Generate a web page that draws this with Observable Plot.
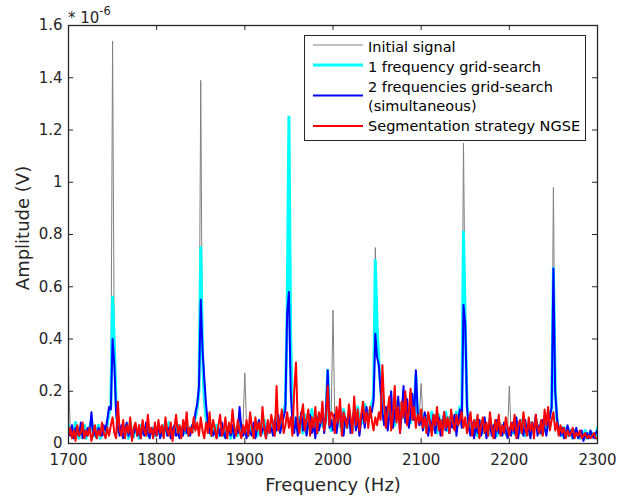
<!DOCTYPE html>
<html>
<head>
<meta charset="utf-8">
<script src="https://cdn.jsdelivr.net/npm/d3@7"></script>
<script src="https://cdn.jsdelivr.net/npm/@observablehq/plot@0.6"></script>
<style>
  html, body { margin: 0; padding: 0; background: #fff; }
  #chart { width: 618px; height: 498px; }
</style>
</head>
<body>
<div id="chart"></div>
<script>
// Frequency grid: 1700 .. 2300 Hz, step 2 Hz
const freqStart = 1700, freqStep = 2;
// Values in units of 1e-8 V
const initialSignal = [
  27,5,3,6,4,2,5,3,7,4,6,3,5,8,4,6,3,5,4,7,3,6,5,10,15,
  154,30,10,4,6,3,5,4,7,3,5,6,2,5,4,7,3,6,4,5,7,3,5,4,6,
  4,5,3,6,4,7,3,5,6,4,3,7,5,4,6,3,5,8,4,5,6,4,9,12,20,
  139,25,14,8,5,6,4,3,7,5,4,6,3,7,4,5,3,6,4,5,3,7,6,4,8,
  27,6,4,7,5,3,8,5,4,7,6,8,4,9,5,7,6,10,5,8,9,7,11,14,50,
  125,40,10,7,9,6,8,11,5,9,7,10,6,12,8,5,9,7,11,6,8,10,20,9,12,
  51,9,7,11,6,12,8,10,7,13,9,6,11,14,8,12,7,10,13,9,12,14,16,20,75,
  45,30,18,13,10,12,9,14,11,8,15,10,13,16,9,12,10,14,11,15,13,10,28,14,11,
  23,9,7,11,8,6,10,5,9,7,11,6,8,5,10,7,9,6,11,8,7,10,12,15,115,
  46,14,7,4,6,8,3,7,5,9,4,6,3,8,5,4,7,6,3,5,8,4,6,3,5,
  22,4,6,3,7,5,8,4,6,9,5,3,7,6,4,8,5,7,3,6,8,5,7,10,16,
  98,20,8,4,6,3,5,2,4,6,3,4,2,5,3,4,2,3,5,2,3,4,2,3,4,
  4
];
const oneFreqGrid = [
  7,4,5,3,8,5,2,6,4,7,2,5,6,9,4,3,5,7,2,5,6,4,8,12,14,
  56,38,15,5,4,6,3,7,5,2,8,4,3,6,5,2,7,4,5,6,3,5,4,6,3,
  5,4,6,3,7,5,4,8,3,6,4,5,7,3,5,6,4,7,3,6,5,8,10,14,20,
  75,34,18,10,6,5,3,6,4,7,3,5,6,3,5,4,7,2,5,4,6,3,8,5,4,
  4,6,3,5,7,4,6,3,8,5,4,9,3,6,7,5,8,4,10,6,8,9,12,15,50,
  125,40,12,6,8,5,10,7,4,11,6,9,5,13,6,8,4,11,7,10,6,9,28,8,5,
  9,6,12,8,10,5,13,8,6,11,9,5,12,8,14,6,11,8,15,9,12,10,15,18,70,
  45,31,22,14,9,11,8,15,10,13,7,16,11,8,14,10,18,9,13,8,14,12,26,10,9,
  8,11,6,10,8,5,12,7,9,4,11,6,9,8,12,5,10,7,9,6,12,7,14,10,81,
  46,15,8,5,7,4,9,3,6,8,4,7,5,3,9,6,4,8,3,6,5,7,4,6,3,
  5,6,4,7,5,8,4,9,6,3,7,5,8,4,6,9,5,4,8,6,5,7,6,12,13,
  67,21,9,4,5,3,6,4,3,5,4,2,5,3,4,2,4,3,5,2,4,3,4,3,2,
  6
];
const twoFreqGrid = [
  5,3,7,2,6,4,3,8,2,5,3,6,4,12,3,5,2,6,4,3,7,5,9,14,13,
  40,30,12,6,3,7,2,5,8,3,6,2,4,7,3,5,2,6,3,8,4,2,6,3,5,
  3,7,2,5,4,8,3,6,2,5,7,3,4,2,6,3,8,4,5,3,7,6,12,15,22,
  55,36,25,15,8,4,7,3,5,2,6,3,8,4,2,6,5,3,7,2,5,4,14,6,3,
  5,2,7,4,3,8,2,6,9,3,5,7,2,8,4,6,3,9,5,11,4,7,10,13,50,
  58,20,8,4,10,3,7,12,5,9,3,8,11,4,7,2,10,5,8,13,4,12,28,6,9,
  5,11,4,9,14,6,3,10,7,12,4,8,13,5,10,3,9,12,6,14,8,11,12,16,42,
  33,30,20,12,7,14,5,11,20,6,13,9,18,4,12,22,8,17,6,11,19,9,28,12,7,
  10,5,12,7,3,9,6,11,4,8,10,3,7,12,5,9,4,8,6,11,3,9,13,6,53,
  46,14,6,3,8,2,7,4,9,3,6,10,2,5,8,3,7,2,9,4,6,3,8,5,2,
  6,3,8,4,10,2,7,5,3,9,4,6,2,8,5,11,3,7,4,9,6,3,8,10,14,
  67,20,10,5,3,6,2,4,7,3,5,2,4,6,2,3,5,1,3,4,2,5,3,2,4,
  5
];
const segmentationNGSE = [
  3,6,2,5,1,7,3,4,8,2,5,3,6,1,4,7,2,5,3,8,4,2,6,3,7,
  10,4,2,16,5,3,9,2,7,4,10,1,6,8,3,7,2,9,5,3,11,4,6,2,8,
  3,9,4,7,2,10,5,3,8,1,6,11,4,7,2,9,5,12,3,6,4,10,5,8,3,
  10,5,2,8,4,12,3,9,6,2,7,11,3,5,10,2,8,4,13,6,3,9,5,2,7,
  4,9,3,12,6,2,10,5,8,3,14,6,2,9,4,11,7,3,22,5,8,13,4,7,12,
  6,10,3,20,31,8,4,11,15,5,9,13,3,10,6,14,4,12,8,16,5,9,22,7,12,
  11,4,14,8,17,3,12,9,6,15,10,4,18,7,13,5,11,16,8,12,6,14,9,5,10,
  7,12,9,30,15,6,13,18,5,11,22,8,14,4,16,10,20,7,12,21,9,14,6,11,8,
  13,6,10,4,12,8,3,11,7,14,5,9,3,12,6,10,4,13,8,5,11,7,9,12,6,
  10,4,8,12,3,9,6,11,2,7,10,4,8,3,12,6,2,9,5,11,3,7,4,10,6,
  3,8,5,11,2,7,9,4,12,6,3,10,5,8,2,11,6,4,9,3,13,7,14,5,9,
  12,5,8,3,7,4,6,2,5,3,4,6,2,4,3,5,2,3,4,2,3,2,3,4,2,
  2
];
const seriesNames = ["Initial signal", "1 frequency grid-search", "2 frequencies grid-search|(simultaneous)", "Segmentation strategy NGSE"];
const seriesColors = ["#808080", "#00FFFF", "#0000FF", "#FF0000"];
const seriesWidths = [1, 3, 2, 2];
const xTicks = [1700, 1800, 1900, 2000, 2100, 2200, 2300];
const yTicks = [0, 0.2, 0.4, 0.6, 0.8, 1, 1.2, 1.4, 1.6];
const yTickLabels = ["0", "0.2", "0.4", "0.6", "0.8", "1", "1.2", "1.4", "1.6"];

const allSeries = [initialSignal, oneFreqGrid, twoFreqGrid, segmentationNGSE];
const tables = allSeries.map(arr => arr.map((v, i) => ({f: freqStart + i * freqStep, a: v / 100})));

const W = 618, H = 498, mL = 68, mR = 21, mT = 25, mB = 55;
const xDom = [1700, 2300], yDom = [0, 1.6];
const tickPx = 5;
const tLenX = tickPx * (xDom[1] - xDom[0]) / (W - mL - mR);
const tLenY = tickPx * (yDom[1] - yDom[0]) / (H - mT - mB);

const ink = "#262626";
const svg = Plot.plot({
  width: W,
  height: H,
  marginLeft: mL,
  marginRight: mR,
  marginTop: mT,
  marginBottom: mB,
  style: {fontFamily: "DejaVu Sans, Verdana, sans-serif", fontSize: "15px", color: ink, background: "#fff", overflow: "visible"},
  x: {domain: xDom},
  y: {domain: yDom},
  marks: [
    ...tables.map((t, k) => Plot.line(t, {x: "f", y: "a", stroke: seriesColors[k], strokeWidth: seriesWidths[k], strokeLinejoin: "round", clip: true})),
    Plot.axisX({anchor: "bottom", ticks: xTicks, tickSize: 0, tickPadding: 11, tickFormat: d => String(d), label: null, fontSize: 15}),
    Plot.axisY({anchor: "left", ticks: yTicks, tickSize: 0, tickPadding: 6, tickFormat: d => yTickLabels[yTicks.indexOf(d)] ?? "", label: null, fontSize: 15}),
    Plot.ruleX(xTicks, {x: d => d, y1: yDom[0], y2: yDom[0] + tLenY, stroke: ink, strokeWidth: 1}),
    Plot.ruleX(xTicks, {x: d => d, y1: yDom[1], y2: yDom[1] - tLenY, stroke: ink, strokeWidth: 1}),
    Plot.ruleY(yTicks, {y: d => d, x1: xDom[0], x2: xDom[0] + tLenX, stroke: ink, strokeWidth: 1}),
    Plot.ruleY(yTicks, {y: d => d, x1: xDom[1], x2: xDom[1] - tLenX, stroke: ink, strokeWidth: 1}),
    Plot.frame({stroke: ink, strokeWidth: 1.3})
  ]
});

const s = d3.select(svg);
const font = "DejaVu Sans, Verdana, sans-serif";
// exponent label
const ex = s.append("text").attr("x", 68).attr("y", 23).attr("text-anchor", "start").attr("fill", ink).attr("font-family", font).attr("font-size", 15);
ex.append("tspan").text("* 10");
ex.append("tspan").attr("dy", -8).attr("font-size", 11.5).text("-6");
// axis labels
s.append("text").attr("x", 333).attr("y", 491).attr("text-anchor", "middle").attr("fill", ink)
  .attr("font-family", font).attr("font-size", 18).text("Frequency (Hz)");
s.append("text").attr("transform", "translate(29,228) rotate(-90)").attr("text-anchor", "middle").attr("fill", ink)
  .attr("font-family", font).attr("font-size", 18).text("Amplitude (V)");
// legend
const lg = s.append("g").attr("font-family", font).attr("font-size", 14.5).attr("fill", "#000").attr("text-anchor", "start");
lg.append("rect").attr("x", 304.5).attr("y", 35.5).attr("width", 281).attr("height", 105).attr("fill", "#fff").attr("stroke", ink).attr("stroke-width", 1);
const rowY = [45, 65, 95.5, 126];
const rowBaselines = [[51.5], [71.5], [91.5, 111], [131]];
seriesNames.forEach((name, k) => {
  lg.append("line").attr("x1", 313).attr("x2", 363).attr("y1", rowY[k]).attr("y2", rowY[k])
    .attr("stroke", seriesColors[k]).attr("stroke-width", seriesWidths[k]);
  name.split("|").forEach((part, j) => {
    lg.append("text").attr("x", 368).attr("y", rowBaselines[k][j]).text(part);
  });
});
document.getElementById("chart").appendChild(svg);
</script>
</body>
</html>
